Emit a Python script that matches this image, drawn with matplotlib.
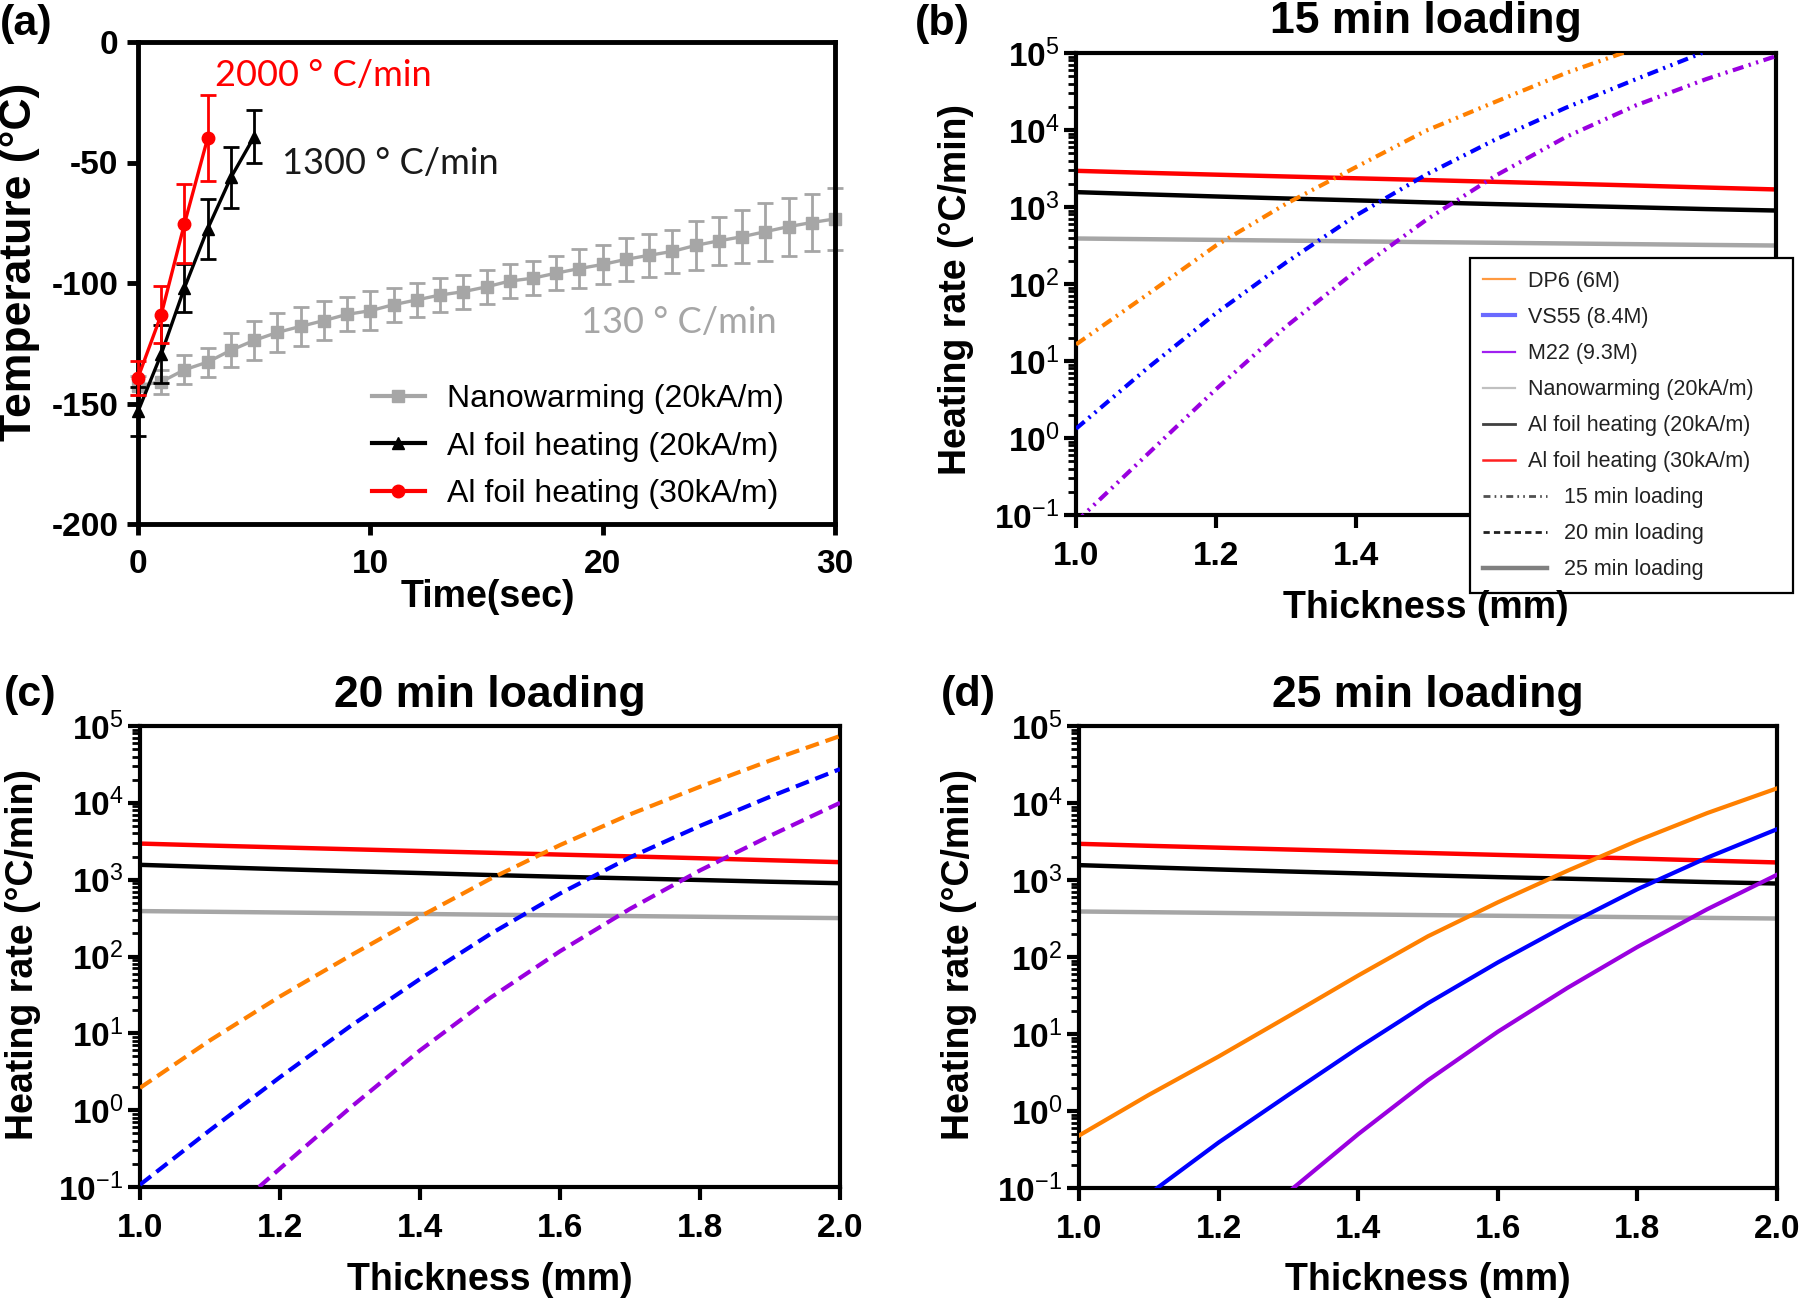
import matplotlib
matplotlib.use('Agg')
import matplotlib.pyplot as plt
import numpy as np
from matplotlib.ticker import FuncFormatter, LogLocator, NullFormatter
from matplotlib.legend_handler import HandlerLine2D
from matplotlib.lines import Line2D

plt.rcParams['font.family'] = ['Liberation Sans', 'DejaVu Sans']
plt.rcParams['axes.unicode_minus'] = False
plt.rcParams['mathtext.fontset'] = 'custom'
plt.rcParams['mathtext.rm'] = 'Liberation Sans'
plt.rcParams['mathtext.bf'] = 'Liberation Sans:bold'
plt.rcParams['mathtext.it'] = 'Liberation Sans:italic'
plt.rcParams['lines.scale_dashes'] = False

# ---------------- Panel (a) data ----------------
time_nano = list(range(31))
temp_nano = [-142.6, -141, -136, -132.8, -127.9, -123.8, -120.5, -118, -115.6, -113,
             -111.5, -109, -107, -105, -103.6, -101.6, -99.2, -98, -95.9, -94,
             -92.3, -90.2, -88.5, -86.9, -84.4, -82.5, -80.8, -78.7, -76.6, -74.9, -73.4]
err_nano = [4, 5, 6, 6, 7, 8, 8, 8, 8, 7, 8, 7, 7, 7, 7, 7, 7, 7, 7, 8, 8, 9, 9, 9,
            10, 10, 11, 12, 12, 12, 13]
time_al20 = [0, 1, 2, 3, 4, 5]
temp_al20 = [-153.3, -129.5, -102, -77.5, -56.2, -39.3]
err_al20 = [10, 12, 10, 12.5, 12.5, 11]
time_al30 = [0, 1, 2, 3]
temp_al30 = [-139.3, -113.1, -75.4, -39.8]
err_al30 = [7, 12, 16.5, 17.8]

a_xticks = [0, 10, 20, 30]
a_yticks = [0, -50, -100, -150, -200]
a_legend = ['Nanowarming (20kA/m)', 'Al foil heating (20kA/m)', 'Al foil heating (30kA/m)']
a_notes = ['2000 ° C/min', '1300 ° C/min', '130 ° C/min']

# ---------------- Panels (b)-(d) data ----------------
thickness = [1.0, 1.1, 1.2, 1.3, 1.4, 1.5, 1.6, 1.7, 1.8, 1.9, 2.0]
nano_rate = [390, 382, 374, 366, 358, 350, 343, 336, 329, 322, 316]
al20_rate = [1560, 1460, 1370, 1290, 1220, 1150, 1090, 1040, 990, 940, 900]
al30_rate = [2950, 2780, 2630, 2490, 2360, 2240, 2120, 2010, 1900, 1790, 1690]

# 15 min loading
dp6_15_x = [1.0, 1.1, 1.2, 1.3, 1.4, 1.5, 1.6, 1.7, 1.8]
dp6_15 = [16.4, 71, 316, 1100, 3300, 9800, 23400, 55000, 115000]
vs55_15_x = [1.0, 1.1, 1.2, 1.3, 1.4, 1.5, 1.6, 1.7, 1.8, 1.9]
vs55_15 = [1.32, 7.8, 41.7, 190, 776, 2630, 7590, 19500, 45700, 105000]
m22_15_x = [1.0, 1.1, 1.2, 1.3, 1.4, 1.5, 1.6, 1.7, 1.8, 1.9, 2.0]
m22_15 = [0.081, 0.59, 4.3, 28, 148, 676, 2570, 8130, 20900, 45700, 91000]

# 20 min loading
dp6_20_x = [1.0, 1.1, 1.2, 1.3, 1.4, 1.5, 1.6, 1.7, 1.8, 1.9, 2.0]
dp6_20 = [1.95, 8.1, 30.2, 102, 331, 1020, 2820, 7080, 16200, 35500, 74000]
vs55_20_x = [1.0, 1.1, 1.2, 1.3, 1.4, 1.5, 1.6, 1.7, 1.8, 1.9, 2.0]
vs55_20 = [0.107, 0.55, 2.69, 12.3, 51, 195, 660, 1950, 5010, 12000, 27500]
m22_20_x = [1.17, 1.2, 1.3, 1.4, 1.5, 1.6, 1.7, 1.8, 1.9, 2.0]
m22_20 = [0.1, 0.174, 1.07, 6.0, 28.8, 117, 417, 1320, 3720, 10000]

# 25 min loading
dp6_25_x = [1.0, 1.1, 1.2, 1.3, 1.4, 1.5, 1.6, 1.7, 1.8, 1.9, 2.0]
dp6_25 = [0.48, 1.62, 5.1, 17, 57.5, 186, 513, 1320, 3240, 7400, 15500]
vs55_25_x = [1.112, 1.2, 1.3, 1.4, 1.5, 1.6, 1.7, 1.8, 1.9, 2.0]
vs55_25 = [0.1, 0.39, 1.62, 6.6, 25.1, 85, 263, 759, 1950, 4570]
m22_25_x = [1.307, 1.4, 1.5, 1.6, 1.7, 1.8, 1.9, 2.0]
m22_25 = [0.1, 0.5, 2.51, 10.7, 39.8, 135, 417, 1170]

x_ticks = [1.0, 1.2, 1.4, 1.6, 1.8, 2.0]
x_ticklabels = ['1.0', '1.2', '1.4', '1.6', '1.8', '2.0']
titles = ['15 min loading', '20 min loading', '25 min loading']
b_legend = ['DP6 (6M)', 'VS55 (8.4M)', 'M22 (9.3M)', 'Nanowarming (20kA/m)',
            'Al foil heating (20kA/m)', 'Al foil heating (30kA/m)',
            '15 min loading', '20 min loading', '25 min loading']

# ---------------- styles ----------------
C_ORANGE = '#FF8000'
C_BLUE = '#0000FF'
C_PURPLE = '#9A00E0'
C_GRAY = '#A6A6A6'
C_BLACK = '#000000'
C_RED = '#FF0000'
DASH15 = (0, (8, 4, 1.6, 4, 1.6, 4))
DASH20 = (0, (10, 5))

W, H = 1800, 1305
fig = plt.figure(figsize=(W / 100, H / 100), dpi=100)


def fx(px):
    return px / W


def fy(py):
    return 1 - py / H


def rect(l, t, r, b):
    return [fx(l), fy(b), fx(r) - fx(l), fy(t) - fy(b)]


axA = fig.add_axes(rect(138, 42, 835, 524))
axB = fig.add_axes(rect(1076, 53, 1776, 515))
axC = fig.add_axes(rect(140, 726, 840, 1187))
axD = fig.add_axes(rect(1079, 726, 1777, 1188))

# ---------------- Panel (a) ----------------
axA.errorbar(time_nano, temp_nano, yerr=err_nano, fmt='-s', color=C_GRAY, ms=9, lw=2.4,
             elinewidth=2, capsize=6, capthick=2, zorder=2, clip_on=False)
axA.errorbar(time_al20, temp_al20, yerr=err_al20, fmt='-^', color=C_BLACK, ms=9, lw=2.4,
             elinewidth=2, capsize=6, capthick=2, zorder=3, clip_on=False)
axA.errorbar(time_al30, temp_al30, yerr=err_al30, fmt='-o', color=C_RED, ms=9, lw=2.4,
             elinewidth=2, capsize=6, capthick=2, zorder=4, clip_on=False)
axA.set_xlim(0, 30)
axA.set_ylim(-200, 0)
axA.set_xticks(a_xticks)
axA.set_xticklabels([str(v) for v in a_xticks], fontweight='bold', fontsize=24)
axA.set_yticks(a_yticks)
axA.set_yticklabels([str(v) for v in a_yticks], fontweight='bold', fontsize=24)
for s in axA.spines.values():
    s.set_linewidth(3.5)
axA.tick_params(axis='both', which='major', direction='out', length=8, width=3.5)
axA.tick_params(axis='x', pad=10)
axA.tick_params(axis='y', pad=6)

note_font = ['Lato', 'DejaVu Sans']
axA.text(3.3, -14, a_notes[0], color=C_RED, fontsize=26, family=note_font, va='center', ha='left')
axA.text(6.2, -50.5, a_notes[1], color='#1A1A1A', fontsize=26, family=note_font, va='center', ha='left')
axA.text(19.05, -116.5, a_notes[2], color=C_GRAY, fontsize=26, family=note_font, va='center', ha='left')

a_handles = [Line2D([], [], color=C_GRAY, marker='s', ms=9, lw=3),
             Line2D([], [], color=C_BLACK, marker='^', ms=9, lw=3),
             Line2D([], [], color=C_RED, marker='o', ms=9, lw=3)]
axA.legend(a_handles, a_legend, loc='center left', bbox_to_anchor=(fx(372), fy(446.6)),
           bbox_transform=fig.transFigure, frameon=False, fontsize=23, handlelength=1.65,
           handletextpad=0.7, labelspacing=0.55, borderpad=0, borderaxespad=0)

fig.text(fx(19.5), fy(262), 'Temperature (°C)', rotation=90, ha='center', va='center',
         fontsize=32, fontweight='bold')
fig.text(fx(488), fy(597), 'Time(sec)', ha='center', va='center', fontsize=27, fontweight='bold')


# ---------------- Panels (b)-(d) ----------------
def log_fmt(v, pos):
    e = int(round(np.log10(v)))
    return r'$\mathbf{10}^{\mathregular{%d}}$' % e


def style_log(ax, xlabels):
    ax.set_yscale('log')
    ax.set_ylim(0.1, 1e5)
    ax.set_xlim(1.0, 2.0)
    ax.set_xticks(x_ticks)
    ax.set_xticklabels(xlabels, fontweight='bold', fontsize=24)
    ax.yaxis.set_major_locator(LogLocator(base=10, numticks=10))
    ax.yaxis.set_minor_locator(LogLocator(base=10, subs=np.arange(2, 10), numticks=20))
    ax.yaxis.set_major_formatter(FuncFormatter(log_fmt))
    ax.yaxis.set_minor_formatter(NullFormatter())
    for s in ax.spines.values():
        s.set_linewidth(3)
    ax.tick_params(axis='both', which='major', direction='out', length=9, width=3, labelsize=24)
    ax.tick_params(axis='x', pad=10)
    ax.tick_params(axis='y', pad=3)
    ax.tick_params(axis='y', which='minor', direction='out', length=6, width=2)


def draw_refs(ax):
    ax.plot(thickness, nano_rate, color=C_GRAY, lw=3.2, zorder=2)
    ax.plot(thickness, al20_rate, color=C_BLACK, lw=3.2, zorder=2)
    ax.plot(thickness, al30_rate, color=C_RED, lw=3.2, zorder=2)


# in (b) the legend box hides the last three tick labels
b_xlabels = x_ticklabels[:3] + ['', '', '']
panels = [
    (axB, [(dp6_15_x, dp6_15), (vs55_15_x, vs55_15), (m22_15_x, m22_15)], DASH15, b_xlabels),
    (axC, [(dp6_20_x, dp6_20), (vs55_20_x, vs55_20), (m22_20_x, m22_20)], DASH20, x_ticklabels),
    (axD, [(dp6_25_x, dp6_25), (vs55_25_x, vs55_25), (m22_25_x, m22_25)], '-', x_ticklabels),
]
for ax, series, ls, xl in panels:
    draw_refs(ax)
    for (xs, ys), col in zip(series, [C_ORANGE, C_BLUE, C_PURPLE]):
        ax.plot(xs, ys, color=col, lw=3, linestyle=ls, zorder=3)
    style_log(ax, xl)

# titles, labels, panel letters
for xc, title, yc in [((1076 + 1776) / 2, titles[0], 21),
                      ((140 + 840) / 2, titles[1], 696),
                      ((1079 + 1777) / 2, titles[2], 696)]:
    fig.text(fx(xc), fy(yc), title, ha='center', va='center', fontsize=32, fontweight='bold')

for (xc, yc) in [(1426, 608), (490, 1280), (1428, 1280)]:
    fig.text(fx(xc), fy(yc), 'Thickness (mm)', ha='center', va='center', fontsize=27, fontweight='bold')
for (xc, yc) in [(956, 289), (23, 955), (958.6, 955)]:
    fig.text(fx(xc), fy(yc), 'Heating rate (°C/min)', rotation=90, ha='center', va='center',
             fontsize=27, fontweight='bold')

for (xc, yc), lab in zip([(0, 4), (915, 4), (4, 675), (941, 675)], ['(a)', '(b)', '(c)', '(d)']):
    fig.text(fx(xc), fy(yc), lab, ha='left', va='top', fontsize=31, fontweight='bold')


# legend (b)
class HandlerScaled(HandlerLine2D):
    def __init__(self, factor=1.0, **kw):
        super().__init__(**kw)
        self.factor = factor

    def create_artists(self, legend, orig_handle, xdescent, ydescent, width, height, fontsize, trans):
        return super().create_artists(legend, orig_handle, xdescent, ydescent,
                                      width * self.factor, height, fontsize, trans)


b_handles = [Line2D([], [], color='#FF9A40', lw=1.6),
             Line2D([], [], color='#6A6AFF', lw=3),
             Line2D([], [], color='#A020F0', lw=1.6),
             Line2D([], [], color='#C0C0C0', lw=1.6),
             Line2D([], [], color='#404040', lw=2),
             Line2D([], [], color='#FF2020', lw=1.8),
             Line2D([], [], color='#505050', lw=2, linestyle=(0, (5, 3, 1.2, 3, 1.2, 3))),
             Line2D([], [], color='#202020', lw=2, linestyle=(0, (4.5, 3))),
             Line2D([], [], color='#808080', lw=3.2)]
b_labels = list(b_legend[:6]) + ['      ' + t for t in b_legend[6:]]
hmap = {h: HandlerScaled(1.97) for h in b_handles[6:]}
leg = axB.legend(b_handles, b_labels, loc='upper left',
                 bbox_to_anchor=(fx(1470), fy(590), fx(1793) - fx(1470), fy(258) - fy(590)),
                 bbox_transform=fig.transFigure, mode='expand', fontsize=15.5,
                 handlelength=1.5, handletextpad=0.6, labelspacing=0.7, borderpad=0.6,
                 borderaxespad=0, fancybox=False, framealpha=1, edgecolor='black',
                 handler_map=hmap)
leg.get_frame().set_linewidth(1.6)
for t in leg.get_texts():
    t.set_color('#222222')

fig.savefig('out.png', dpi=100)
